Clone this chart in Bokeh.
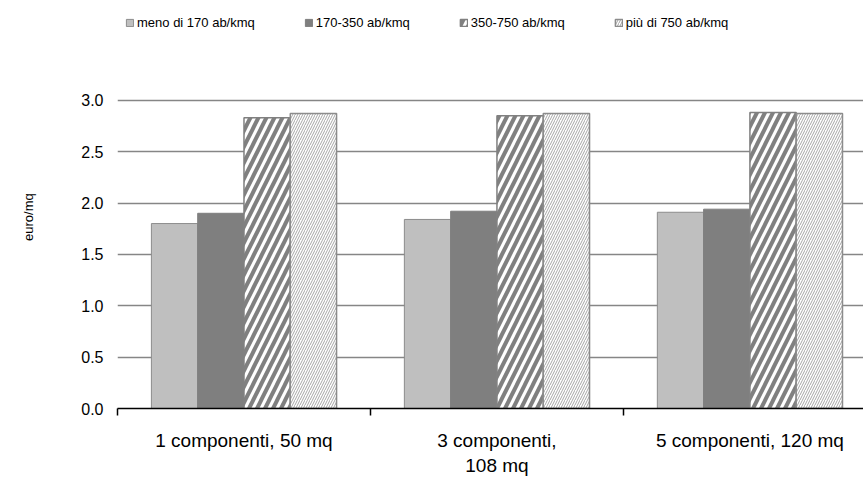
from bokeh.plotting import figure
from bokeh.models import (ColumnDataSource, Range1d, FixedTicker, Legend, LegendItem)
from bokeh.embed import file_html
from bokeh.resources import INLINE

# ---- data ----
categories = ["1 componenti, 50 mq", "3 componenti,\n108 mq", "5 componenti, 120 mq"]
series_names = ["meno di 170 ab/kmq", "170-350 ab/kmq", "350-750 ab/kmq", "più di 750 ab/kmq"]
meno_170 = [1.80, 1.84, 1.91]
da_170_350 = [1.90, 1.92, 1.94]
da_350_750 = [2.83, 2.85, 2.88]
oltre_750 = [2.87, 2.87, 2.87]
y_ticks = [0.0, 0.5, 1.0, 1.5, 2.0, 2.5, 3.0]
y_label = "euro/mq"

FONT = "Liberation Sans"
TXT = "#000000"

W, H = 863, 478
p = figure(width=W, height=H, output_backend="svg", toolbar_location=None,
           x_range=Range1d(0, 2.949), y_range=Range1d(0, 3.971),
           min_border_left=117, min_border_right=0, min_border_top=0,
           min_border_bottom=69, outline_line_color=None)

centers = [i + 0.5 for i in range(len(categories))]
bw = 0.183
offsets = [-0.2745, -0.0915, 0.0915, 0.2745]
series = [meno_170, da_170_350, da_350_750, oltre_750]

styles = [
    dict(fill_color="#BFBFBF", line_color="#8C8C8C", line_width=1),
    dict(fill_color="#7F7F7F", line_color="#7F7F7F", line_width=1),
    dict(fill_color="white", line_color="#808080", line_width=1.5,
         hatch_pattern="/", hatch_color="#808080", hatch_scale=16, hatch_weight=4),
    dict(fill_color="white", line_color="#8C8C8C", line_width=1.5,
         hatch_pattern="/", hatch_color="#A6A6A6", hatch_scale=5, hatch_weight=1),
]

renderers = []
for vals, off, st in zip(series, offsets, styles):
    src = ColumnDataSource(dict(x=[c + off for c in centers], top=vals))
    r = p.vbar(x="x", top="top", width=bw, bottom=0, source=src, **st)
    renderers.append(r)

# y axis
p.yaxis.ticker = FixedTicker(ticks=y_ticks)
p.yaxis.axis_line_color = None
p.yaxis.major_tick_line_color = None
p.yaxis.major_tick_out = 0
p.yaxis.major_tick_in = 0
p.yaxis.minor_tick_line_color = None
p.yaxis.major_label_text_font = FONT
p.yaxis.major_label_text_font_size = "16px"
p.yaxis.major_label_text_color = TXT
p.yaxis.major_label_standoff = 14
p.yaxis.major_label_overrides = {t: f"{t:.1f}" for t in y_ticks}
# trailing no-break spaces push the centred title slightly lower, as in the reference
p.yaxis.axis_label = y_label + "\u00a0" * 7
p.yaxis.axis_label_text_font = FONT
p.yaxis.axis_label_text_font_style = "normal"
p.yaxis.axis_label_text_font_size = "13px"
p.yaxis.axis_label_text_color = TXT
p.yaxis.axis_label_standoff = 42

# grid
p.ygrid.ticker = FixedTicker(ticks=y_ticks[1:])
p.ygrid.grid_line_color = "#868686"
p.ygrid.grid_line_width = 1.3
p.xgrid.grid_line_color = None

# x axis
p.xaxis.ticker = FixedTicker(ticks=centers, minor_ticks=[0, 1, 2, 3])
p.xaxis.major_label_overrides = {c: lab for c, lab in zip(centers, categories)}
p.xaxis.major_tick_line_color = None
p.xaxis.major_tick_out = 0
p.xaxis.minor_tick_out = 7
p.xaxis.minor_tick_in = 0
p.xaxis.minor_tick_line_color = "#000000"
p.xaxis.minor_tick_line_width = 1.5
p.xaxis.axis_line_color = "#000000"
p.xaxis.axis_line_width = 1.5
p.xaxis.major_label_text_font = FONT
p.xaxis.major_label_text_font_size = "19px"
p.xaxis.major_label_text_color = TXT
p.xaxis.major_label_standoff = 14

# legend
items = [LegendItem(label=n, renderers=[r]) for n, r in zip(series_names, renderers)]
legend = Legend(items=items, orientation="horizontal", location=(8, 378),
                glyph_width=9, glyph_height=9, label_standoff=3, spacing=49,
                padding=0, margin=0, border_line_color=None, background_fill_alpha=0,
                label_text_font=FONT, label_text_font_size="13px", label_text_color=TXT)
p.add_layout(legend)

open("out.html", "w").write(file_html(p, INLINE))
